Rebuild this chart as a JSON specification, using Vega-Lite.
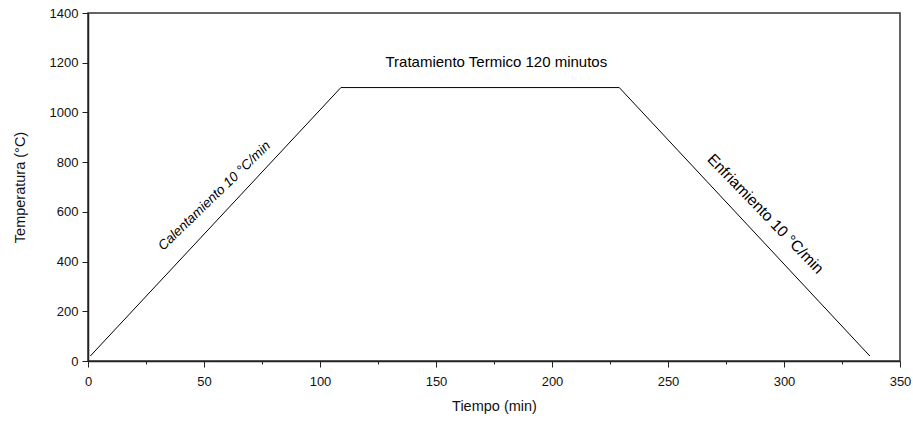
{
  "$schema": "https://vega.github.io/schema/vega-lite/v6.json",
  "autosize": "none",
  "width": 812,
  "height": 348,
  "padding": {"left": 88, "top": 13, "right": 13, "bottom": 62},
  "background": "white",
  "config": {
    "font": "Liberation Sans",
    "view": {"stroke": "#333333", "strokeWidth": 1.5},
    "axis": {
      "grid": false,
      "domainColor": "#222222",
      "domainWidth": 1.5,
      "tickColor": "#222222",
      "tickWidth": 1,
      "labelFont": "Liberation Sans",
      "labelFontSize": 13,
      "labelColor": "#111111",
      "titleFont": "Liberation Sans",
      "titleFontSize": 14.5,
      "titleFontWeight": "normal",
      "titleColor": "#111111"
    },
    "text": {"font": "Liberation Sans", "color": "#000000", "align": "center", "baseline": "middle"}
  },
  "layer": [
    {
      "data": {
        "values": [
          {"tiempo": 1, "temperatura": 20},
          {"tiempo": 109, "temperatura": 1100},
          {"tiempo": 229, "temperatura": 1100},
          {"tiempo": 337, "temperatura": 20}
        ]
      },
      "mark": {"type": "line", "color": "#000000", "strokeWidth": 1},
      "encoding": {
        "x": {
          "field": "tiempo",
          "type": "quantitative",
          "scale": {"domain": [0, 350], "nice": false, "zero": false},
          "axis": {
            "title": "Tiempo (min)",
            "values": [0, 25, 50, 75, 100, 125, 150, 175, 200, 225, 250, 275, 300, 325, 350],
            "labelExpr": "datum.value % 50 === 0 ? datum.label : ''",
            "tickSize": {"condition": {"test": "datum.value % 50 === 0", "value": 6}, "value": 3},
            "labelPadding": 8,
            "titlePadding": 11,
            "labelFlush": false
          }
        },
        "y": {
          "field": "temperatura",
          "type": "quantitative",
          "scale": {"domain": [0, 1400], "nice": false, "zero": false},
          "axis": {
            "title": "Temperatura (°C)",
            "values": [0, 100, 200, 300, 400, 500, 600, 700, 800, 900, 1000, 1100, 1200, 1300, 1400],
            "labelExpr": "datum.value % 200 === 0 ? datum.label : ''",
            "tickSize": {"condition": {"test": "datum.value % 200 === 0", "value": 6}, "value": 3},
            "labelPadding": 4,
            "titlePadding": 22,
            "titleY": 174,
            "labelFlush": false,
            "format": "d"
          }
        }
      }
    },
    {
      "data": {"values": [{"tiempo": 176, "temperatura": 1203, "texto": "Tratamiento Termico 120 minutos"}]},
      "mark": {"type": "text", "fontSize": 15},
      "encoding": {
        "x": {"field": "tiempo", "type": "quantitative"},
        "y": {"field": "temperatura", "type": "quantitative"},
        "text": {"field": "texto"}
      }
    },
    {
      "data": {"values": [{"tiempo": 54.5, "temperatura": 664, "texto": "Calentamiento 10 °C/min"}]},
      "mark": {"type": "text", "fontSize": 13.5, "fontStyle": "italic", "angle": -44},
      "encoding": {
        "x": {"field": "tiempo", "type": "quantitative"},
        "y": {"field": "temperatura", "type": "quantitative"},
        "text": {"field": "texto"}
      }
    },
    {
      "data": {"values": [{"tiempo": 292, "temperatura": 592, "texto": "Enfriamiento 10 °C/min"}]},
      "mark": {"type": "text", "fontSize": 15.5, "angle": 46},
      "encoding": {
        "x": {"field": "tiempo", "type": "quantitative"},
        "y": {"field": "temperatura", "type": "quantitative"},
        "text": {"field": "texto"}
      }
    }
  ]
}
